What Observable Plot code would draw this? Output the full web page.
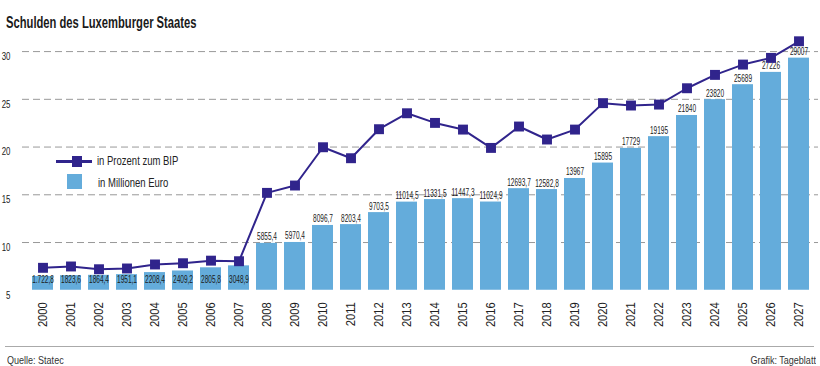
<!DOCTYPE html>
<html><head><meta charset="utf-8">
<script src="https://cdn.jsdelivr.net/npm/d3@7"></script>
<script src="https://cdn.jsdelivr.net/npm/@observablehq/plot@0.6"></script>
<style>
body{margin:0;background:#fff;}
#wrap{position:relative;width:820px;height:366px;overflow:hidden;font-family:"Liberation Sans",Arial,sans-serif;color:#222;}
.sq{transform-origin:0 50%;white-space:nowrap;}
#title{position:absolute;left:6px;top:14px;font-size:16px;font-weight:bold;line-height:18px;color:#1a1a1a;transform:scaleX(0.7);}
#chart{position:absolute;left:0;top:30px;}
.abs{position:absolute;}
.legtxt{position:absolute;font-size:12.5px;line-height:14px;color:#222;transform:scaleX(0.76);}
#rule{position:absolute;left:5px;width:809px;top:346px;border-top:1px solid #aaa;}
#src{position:absolute;left:7px;top:353px;font-size:11px;line-height:14px;color:#333;transform:scaleX(0.82);}
#credit{position:absolute;right:4px;top:353px;font-size:11px;line-height:14px;color:#333;transform:scaleX(0.82);transform-origin:100% 50%;white-space:nowrap;}
</style></head>
<body>
<div id="wrap">
  <div id="title" class="sq">Schulden des Luxemburger Staates</div>
  <div id="chart"></div>
  <div class="abs" style="left:56px;top:160px;width:36px;height:3px;background:#30248C"></div>
  <div class="abs" style="left:72px;top:156px;width:10px;height:11px;background:#30248C"></div>
  <div class="legtxt sq" style="left:97px;top:154px">in Prozent zum BIP</div>
  <div class="abs" style="left:67px;top:174px;width:15px;height:15px;background:#64ACDB"></div>
  <div class="legtxt sq" style="left:98px;top:176px">in Millionen Euro</div>
  <div id="rule"></div>
  <div id="src" class="sq">Quelle: Statec</div>
  <div id="credit">Grafik: Tageblatt</div>
</div>
<script>
const years = ["2000","2001","2002","2003","2004","2005","2006","2007","2008","2009","2010","2011","2012","2013","2014","2015","2016","2017","2018","2019","2020","2021","2022","2023","2024","2025","2026","2027"];
const pctBIP = [7.35,7.49,7.2,7.28,7.7,7.83,8.1,8.04,15.2,15.97,19.98,18.83,21.87,23.54,22.53,21.83,19.91,22.15,20.79,21.83,24.6,24.35,24.45,26.16,27.56,28.64,29.34,31.08];
const mioEuro = [1722.8,1823.6,1864.4,1951.1,2208.4,2409.2,2805.8,3048.9,5855.4,5970.4,8096.7,8203.4,9703.5,11014.5,11331.5,11447.3,11024.9,12693.7,12582.8,13967,15895,17729,19195,21840,23820,25689,27226,29007];
const barLabels = ["1.722,8","1823,6","1864,4","1951,1","2208,4","2409,2","2805,8","3048,9","5855,4","5970,4","8096,7","8203,4","9703,5","11014,5","11331,5","11447,3","11024,9","12693,7","12582,8","13967","15895","17729","19195","21840","23820","25689","27226","29007"];
const yTicks = [5,10,15,20,25,30];
const gridTicks = [10,15,20,25,30];

const BASE = 5;              // baseline of the bars on the percent axis
const MIO_PER_UNIT = 1193;   // Mio. Euro represented by one percent-axis unit
const LINE = "#30248C", BAR = "#64ACDB";
const FONT = "'Liberation Sans',Arial,sans-serif";

const data = years.map((y,i)=>({year:y, pct:pctBIP[i], mio:mioEuro[i], label:barLabels[i], early:+y<2008}));

const chart = Plot.plot({
  width:820, height:306,
  marginLeft:22, marginRight:2, marginTop:2, marginBottom:46.25,
  x:{type:"band", domain:years, paddingInner:0.26, paddingOuter:0.1},
  y:{domain:[5,32]},
  style:{fontFamily:FONT, color:"#222", background:"transparent", overflow:"visible"},
  marks:[
    Plot.gridY(gridTicks, {stroke:"#999", strokeOpacity:1, strokeDasharray:"7,4"}),
    Plot.axisY(yTicks, {tickSize:0, tickPadding:12, fontSize:10.5, dy:5, label:null}),
    Plot.axisX({tickRotate:-90, tickSize:0, tickPadding:12, fontSize:13, label:null}),
    Plot.barY(data, {x:"year", y1:BASE, y2:d=>BASE + d.mio/MIO_PER_UNIT, fill:BAR}),
    Plot.text(data.filter(d=>!d.early), {x:"year", y:d=>BASE + d.mio/MIO_PER_UNIT, text:"label", lineAnchor:"bottom", dy:-3, fontSize:10.5, fill:"#1a1a1a"}),
    Plot.text(data.filter(d=>d.early), {x:"year", y:BASE, text:"label", dy:-11, fontSize:10.5, fill:"#1a1a1a"}),
    Plot.line(data, {x:"year", y:"pct", stroke:LINE, strokeWidth:2}),
    Plot.dot(data, {x:"year", y:"pct", symbol:"square", r:5.6, fill:LINE, stroke:"none"})
  ]
});
document.getElementById("chart").append(chart);

function squeeze(selector, s){
  chart.querySelectorAll(selector).forEach(t=>{
    const L = t.getComputedTextLength();
    if (L > 0) {
      t.setAttribute("textLength", (L*s).toFixed(2));
      t.setAttribute("lengthAdjust", "spacingAndGlyphs");
    }
  });
}
squeeze('g[aria-label="text"] text', 0.62);
squeeze('g[aria-label="x-axis tick label"] text', 0.86);
squeeze('g[aria-label="y-axis tick label"] text', 0.75);
</script>
</body></html>
